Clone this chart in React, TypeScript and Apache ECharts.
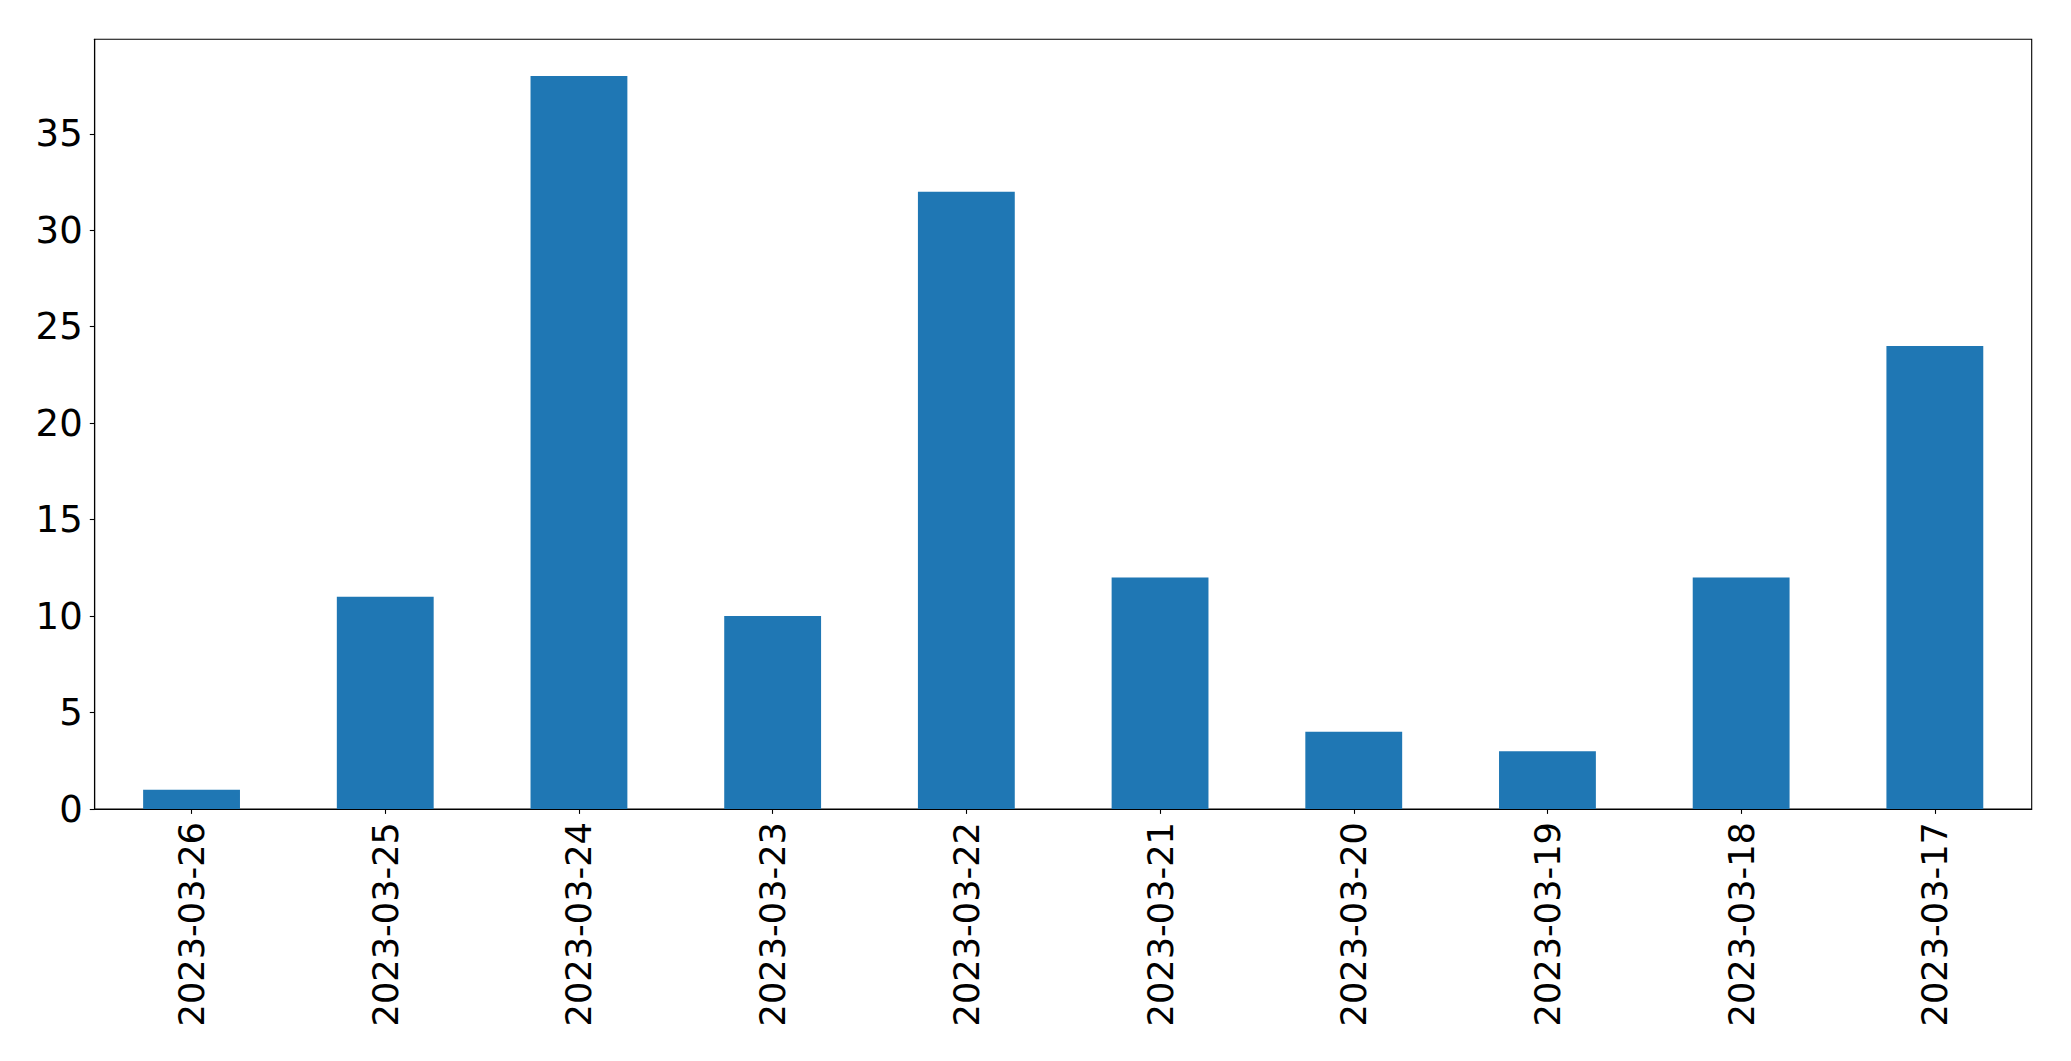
import React, { useEffect, useRef } from "react";
import * as echarts from "echarts";

const categories = [
  "2023-03-26",
  "2023-03-25",
  "2023-03-24",
  "2023-03-23",
  "2023-03-22",
  "2023-03-21",
  "2023-03-20",
  "2023-03-19",
  "2023-03-18",
  "2023-03-17",
];
const values = [1, 11, 38, 10, 32, 12, 4, 3, 12, 24];
const yMax = 39.9;

export default function App() {
  const ref = useRef<HTMLDivElement>(null);
  useEffect(() => {
    if (!ref.current) return;
    const chart = echarts.init(ref.current, null, { renderer: "svg" });
    chart.setOption({
      animation: false,
      backgroundColor: "#ffffff",
      textStyle: { fontFamily: "DejaVu Sans" },
      grid: {
        left: 94.7,
        right: 39.3,
        top: 39.3,
        bottom: 252,
        show: true,
        borderColor: "#000000",
        borderWidth: 1.1,
        backgroundColor: "transparent",
      },
      xAxis: {
        type: "category",
        data: categories,
        boundaryGap: true,
        axisLine: { show: true, lineStyle: { color: "#000000", width: 1.1 } },
        axisTick: {
          show: true,
          alignWithLabel: true,
          length: 4.9,
          lineStyle: { color: "#000000", width: 1.1 },
        },
        axisLabel: {
          rotate: 90,
          margin: 13,
          fontSize: 35.2,
          color: "#000000",
          fontFamily: "DejaVu Sans",
          interval: 0,
        },
        splitLine: { show: false },
      },
      yAxis: {
        type: "value",
        min: 0,
        max: yMax,
        interval: 5,
        axisLine: { show: true, lineStyle: { color: "#000000", width: 1.1 } },
        axisTick: {
          show: true,
          length: 4.9,
          lineStyle: { color: "#000000", width: 1.1 },
        },
        axisLabel: {
          margin: 12,
          fontSize: 37,
          color: "#000000",
          fontFamily: "DejaVu Sans",
          showMaxLabel: false,
        },
        splitLine: { show: false },
      },
      series: [
        {
          type: "bar",
          data: values,
          barWidth: "50%",
          itemStyle: { color: "#1f77b4" },
        },
      ],
    });
    return () => chart.dispose();
  }, []);
  return (
    <div
      ref={ref}
      style={{ position: "fixed", left: 0, top: 0, width: 2071, height: 1061 }}
    />
  );
}
